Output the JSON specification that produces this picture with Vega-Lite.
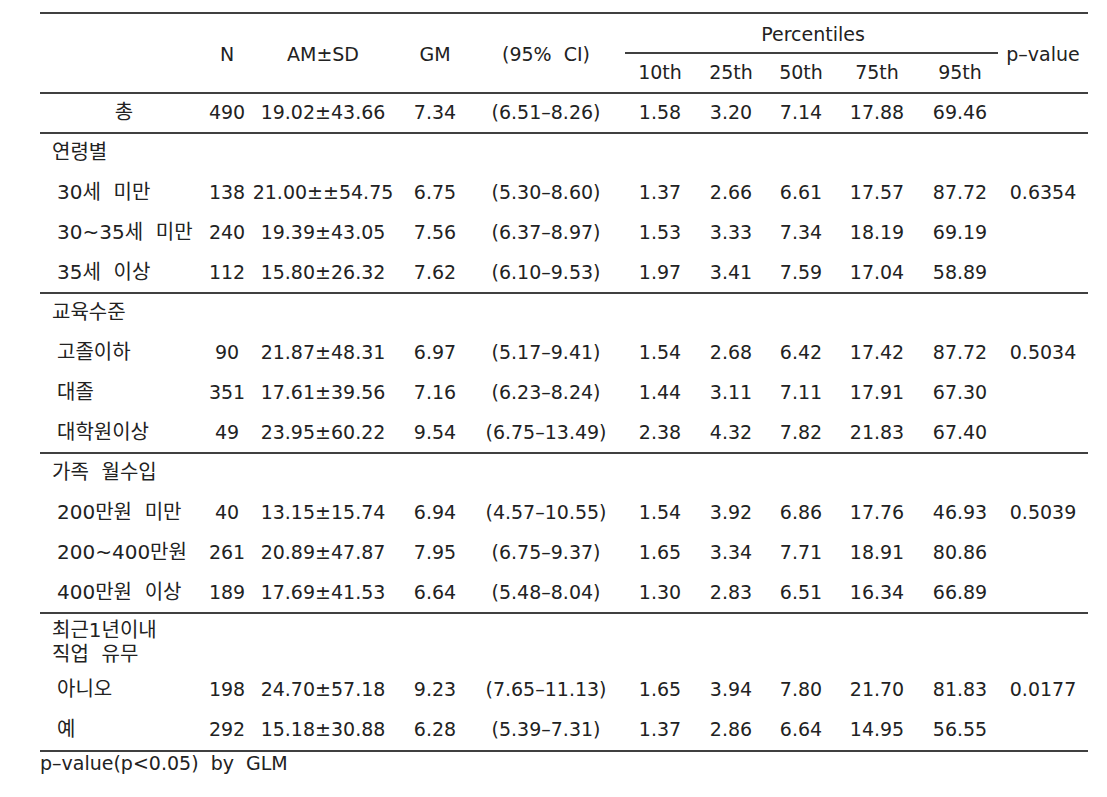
{
  "$schema": "https://vega.github.io/schema/vega-lite/v6.json",
  "width": 1107,
  "height": 797,
  "padding": 0,
  "autosize": {"type": "none"},
  "background": "white",
  "config": {
    "view": {"stroke": null},
    "text": {"font": "DejaVu Sans, Noto Sans CJK KR", "fontSize": 19, "color": "#222222", "baseline": "middle"}
  },
  "datasets": {
    "table": [
      {"r": 5, "level": "total", "label": "총", "N": "490", "AM": "19.02±43.66", "GM": "7.34", "CI": "(6.51–8.26)", "P10": "1.58", "P25": "3.20", "P50": "7.14", "P75": "17.88", "P95": "69.46", "p": ""},
      {"r": 9, "level": "sub", "label": "30세\u00a0 미만", "N": "138", "AM": "21.00±±54.75", "GM": "6.75", "CI": "(5.30–8.60)", "P10": "1.37", "P25": "2.66", "P50": "6.61", "P75": "17.57", "P95": "87.72", "p": "0.6354"},
      {"r": 11, "level": "sub", "label": "30~35세\u00a0 미만", "N": "240", "AM": "19.39±43.05", "GM": "7.56", "CI": "(6.37–8.97)", "P10": "1.53", "P25": "3.33", "P50": "7.34", "P75": "18.19", "P95": "69.19", "p": ""},
      {"r": 13, "level": "sub", "label": "35세\u00a0 이상", "N": "112", "AM": "15.80±26.32", "GM": "7.62", "CI": "(6.10–9.53)", "P10": "1.97", "P25": "3.41", "P50": "7.59", "P75": "17.04", "P95": "58.89", "p": ""},
      {"r": 17, "level": "sub", "label": "고졸이하", "N": "90", "AM": "21.87±48.31", "GM": "6.97", "CI": "(5.17–9.41)", "P10": "1.54", "P25": "2.68", "P50": "6.42", "P75": "17.42", "P95": "87.72", "p": "0.5034"},
      {"r": 19, "level": "sub", "label": "대졸", "N": "351", "AM": "17.61±39.56", "GM": "7.16", "CI": "(6.23–8.24)", "P10": "1.44", "P25": "3.11", "P50": "7.11", "P75": "17.91", "P95": "67.30", "p": ""},
      {"r": 21, "level": "sub", "label": "대학원이상", "N": "49", "AM": "23.95±60.22", "GM": "9.54", "CI": "(6.75–13.49)", "P10": "2.38", "P25": "4.32", "P50": "7.82", "P75": "21.83", "P95": "67.40", "p": ""},
      {"r": 25, "level": "sub", "label": "200만원\u00a0 미만", "N": "40", "AM": "13.15±15.74", "GM": "6.94", "CI": "(4.57–10.55)", "P10": "1.54", "P25": "3.92", "P50": "6.86", "P75": "17.76", "P95": "46.93", "p": "0.5039"},
      {"r": 27, "level": "sub", "label": "200~400만원", "N": "261", "AM": "20.89±47.87", "GM": "7.95", "CI": "(6.75–9.37)", "P10": "1.65", "P25": "3.34", "P50": "7.71", "P75": "18.91", "P95": "80.86", "p": ""},
      {"r": 29, "level": "sub", "label": "400만원\u00a0 이상", "N": "189", "AM": "17.69±41.53", "GM": "6.64", "CI": "(5.48–8.04)", "P10": "1.30", "P25": "2.83", "P50": "6.51", "P75": "16.34", "P95": "66.89", "p": ""},
      {"r": 34, "level": "sub", "label": "아니오", "N": "198", "AM": "24.70±57.18", "GM": "9.23", "CI": "(7.65–11.13)", "P10": "1.65", "P25": "3.94", "P50": "7.80", "P75": "21.70", "P95": "81.83", "p": "0.0177"},
      {"r": 36, "level": "sub", "label": "예", "N": "292", "AM": "15.18±30.88", "GM": "6.28", "CI": "(5.39–7.31)", "P10": "1.37", "P25": "2.86", "P50": "6.64", "P75": "14.95", "P95": "56.55", "p": ""}
    ],
    "groups": [
      {"r": 7, "label": "연령별"},
      {"r": 15, "label": "교육수준"},
      {"r": 23, "label": "가족\u00a0 월수입"},
      {"r": 31, "label": "최근1년이내"},
      {"r": 32, "label": "직업\u00a0 유무"}
    ],
    "cols": [
      {"key": "N", "c": 4},
      {"key": "AM", "c": 5},
      {"key": "GM", "c": 6},
      {"key": "CI", "c": 7},
      {"key": "P10", "c": 9},
      {"key": "P25", "c": 10},
      {"key": "P50", "c": 11},
      {"key": "P75", "c": 12},
      {"key": "P95", "c": 13},
      {"key": "p", "c": 15}
    ],
    "headers": [
      {"r": 2, "c": 4, "level": "main", "t": "N"},
      {"r": 2, "c": 5, "level": "main", "t": "AM±SD"},
      {"r": 2, "c": 6, "level": "main", "t": "GM"},
      {"r": 2, "c": 7, "level": "main", "t": "(95%\u00a0 CI)"},
      {"r": 2, "c": 15, "level": "main", "t": "p–value"},
      {"r": 3, "c": 9, "level": "sub", "t": "10th"},
      {"r": 3, "c": 10, "level": "sub", "t": "25th"},
      {"r": 3, "c": 11, "level": "sub", "t": "50th"},
      {"r": 3, "c": 12, "level": "sub", "t": "75th"},
      {"r": 3, "c": 13, "level": "sub", "t": "95th"},
      {"r": 1, "c": 11, "level": "span", "t": "Percentiles"}
    ],
    "rules": [
      {"r": 0, "c1": 0, "c2": 16},
      {"r": 2, "c1": 8, "c2": 14},
      {"r": 4, "c1": 0, "c2": 16},
      {"r": 6, "c1": 0, "c2": 16},
      {"r": 14, "c1": 0, "c2": 16},
      {"r": 22, "c1": 0, "c2": 16},
      {"r": 30, "c1": 0, "c2": 16},
      {"r": 37, "c1": 0, "c2": 16}
    ],
    "notes": [
      {"r": 38, "t": "p–value(p<0.05)\u00a0 by\u00a0 GLM"}
    ]
  },
  "layer": [
    {
      "data": {"name": "rules"},
      "mark": {"type": "rule", "color": "#000000", "strokeWidth": 1.3},
      "encoding": {
        "x": {"field": "c1", "type": "quantitative", "axis": null, "scale": {"domain": [0,1,2,3,4,5,6,7,8,9,10,11,12,13,14,15,16], "range": [40,52,57,124,227,323,435,546,625,660,731,801,877,960,998,1043,1088], "nice": false, "zero": false}},
        "x2": {"field": "c2"},
        "y": {"field": "r", "type": "quantitative", "axis": null, "scale": {"domain": [0, 30, 31, 32, 34, 36, 37, 38], "range": [13, 613, 631, 655, 690, 730, 751, 764], "nice": false, "zero": false}}
      }
    },
    {
      "data": {"name": "table"},
      "transform": [
        {"fold": ["N", "AM", "GM", "CI", "P10", "P25", "P50", "P75", "P95", "p"], "as": ["key", "t"]},
        {"lookup": "key", "from": {"data": {"name": "cols"}, "key": "key", "fields": ["c"]}}
      ],
      "mark": {"type": "text", "align": "center"},
      "encoding": {
        "x": {"field": "c", "type": "quantitative", "axis": null},
        "y": {"field": "r", "type": "quantitative", "axis": null},
        "text": {"field": "t"}
      }
    },
    {
      "data": {"name": "table"},
      "transform": [{"filter": "datum.level === 'total'"}],
      "mark": {"type": "text", "align": "center", "fontSize": 20},
      "encoding": {
        "x": {"datum": 3, "type": "quantitative", "axis": null},
        "y": {"field": "r", "type": "quantitative", "axis": null},
        "text": {"field": "label"}
      }
    },
    {
      "data": {"name": "table"},
      "transform": [{"filter": "datum.level === 'sub'"}],
      "mark": {"type": "text", "align": "left", "fontSize": 20},
      "encoding": {
        "x": {"datum": 2, "type": "quantitative", "axis": null},
        "y": {"field": "r", "type": "quantitative", "axis": null},
        "text": {"field": "label"}
      }
    },
    {
      "data": {"name": "groups"},
      "mark": {"type": "text", "align": "left", "fontSize": 20},
      "encoding": {
        "x": {"datum": 1, "type": "quantitative", "axis": null},
        "y": {"field": "r", "type": "quantitative", "axis": null},
        "text": {"field": "label"}
      }
    },
    {
      "data": {"name": "headers"},
      "transform": [{"filter": "datum.level === 'main'"}],
      "mark": {"type": "text", "align": "center", "dy": 2},
      "encoding": {
        "x": {"field": "c", "type": "quantitative", "axis": null},
        "y": {"field": "r", "type": "quantitative", "axis": null},
        "text": {"field": "t"}
      }
    },
    {
      "data": {"name": "headers"},
      "transform": [{"filter": "datum.level === 'sub'"}],
      "mark": {"type": "text", "align": "center"},
      "encoding": {
        "x": {"field": "c", "type": "quantitative", "axis": null},
        "y": {"field": "r", "type": "quantitative", "axis": null},
        "text": {"field": "t"}
      }
    },
    {
      "data": {"name": "headers"},
      "transform": [{"filter": "datum.level === 'span'"}],
      "mark": {"type": "text", "align": "center", "dx": 12, "dy": 2},
      "encoding": {
        "x": {"field": "c", "type": "quantitative", "axis": null},
        "y": {"field": "r", "type": "quantitative", "axis": null},
        "text": {"field": "t"}
      }
    },
    {
      "data": {"name": "notes"},
      "mark": {"type": "text", "align": "left"},
      "encoding": {
        "x": {"datum": 0, "type": "quantitative", "axis": null},
        "y": {"field": "r", "type": "quantitative", "axis": null},
        "text": {"field": "t"}
      }
    }
  ]
}
